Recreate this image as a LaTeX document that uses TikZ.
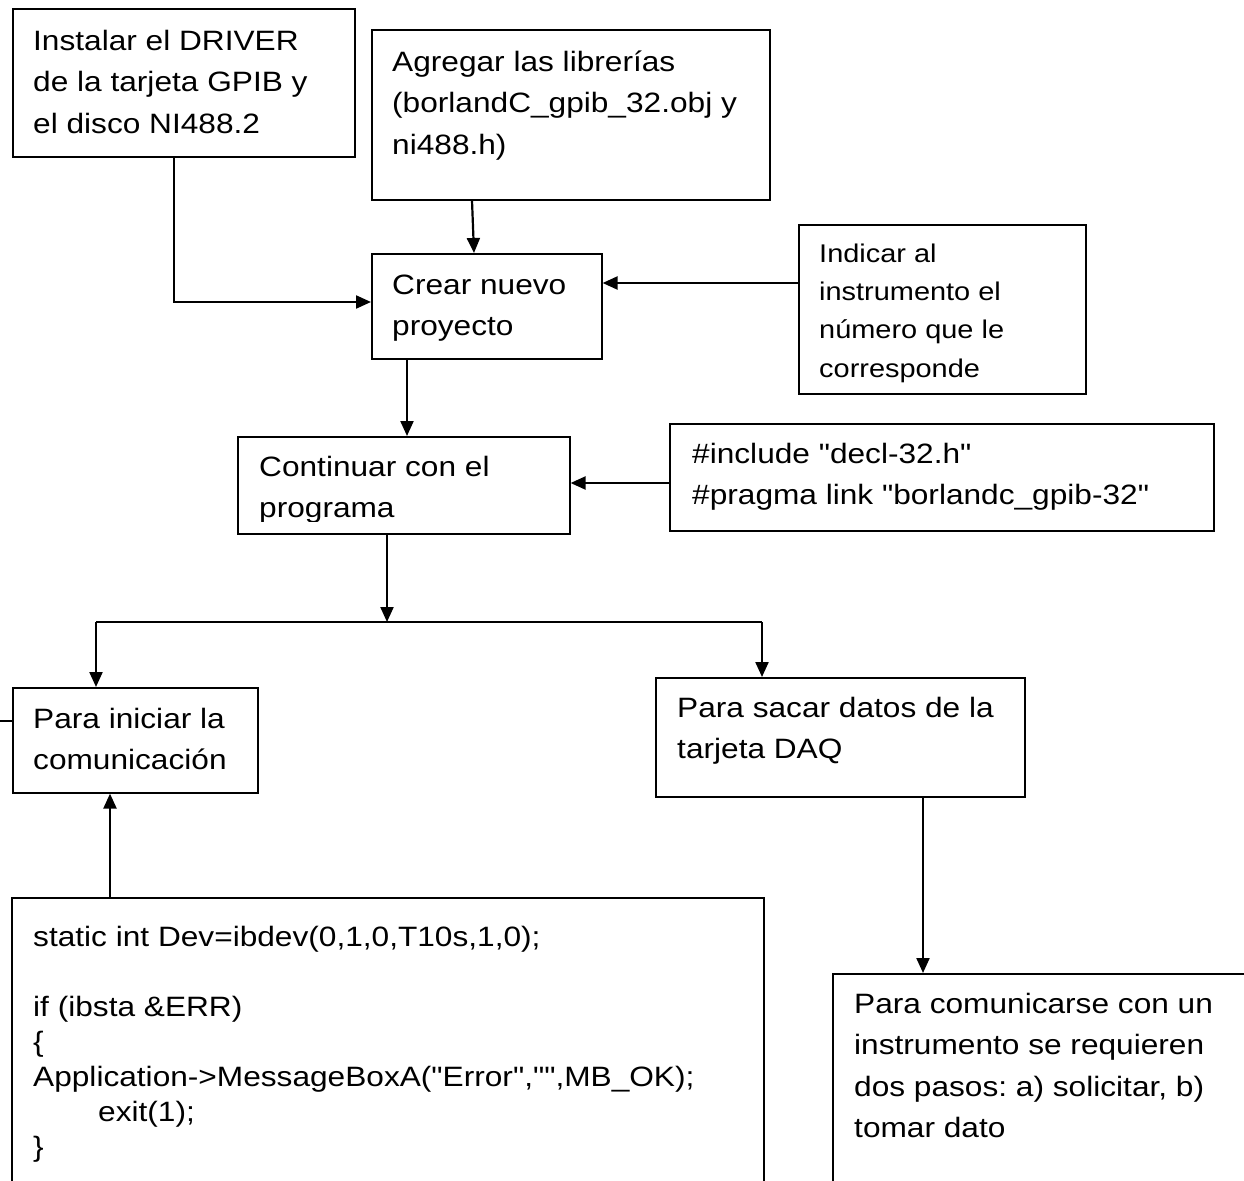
\documentclass[tikz,border=0pt]{standalone}
\usepackage{fontspec}
% plain family without TeX ligature mapping, so " stays a straight quote
\newfontfamily\basefont{Liberation Sans}[FakeStretch=1.13]
\usetikzlibrary{arrows.meta}

\tikzset{
  box/.style={draw, line width=1.6pt, inner sep=0pt, anchor=north west},
  txt/.style={anchor=north west, inner sep=0pt, align=left,
              font=\basefont\frenchspacing\fontsize{28}{41.5}\selectfont},
  smalltxt/.style={txt, font=\basefont\frenchspacing\fontsize{25.6}{38.3}\selectfont},
  codetxt/.style={txt, font=\basefont\frenchspacing\fontsize{28}{35}\selectfont},
  conn/.style={line width=2.2pt, -{Triangle[length=15pt,width=13pt]}},
  wire/.style={line width=2.2pt},
}

\begin{document}
\begin{tikzpicture}[x=1pt, y=-1pt]
  \useasboundingbox (0,0) rectangle (1244,1180);
  \fill[white] (0,0) rectangle (1244,1180);
  \clip (0,0) rectangle (1244,1180);

  % boxes
  \node[box, minimum width=342, minimum height=148] (inst)  at (12,8)   {};
  \node[box, minimum width=398, minimum height=170] (agreg) at (371,29) {};
  \node[box, minimum width=230, minimum height=105] (crear) at (371,253) {};
  \node[box, minimum width=287, minimum height=169] (indic) at (798,224) {};
  \node[box, minimum width=544, minimum height=107] (incl)  at (669,423) {};
  \node[box, minimum width=332, minimum height=97]  (cont)  at (237,436) {};
  \node[box, minimum width=245, minimum height=105] (inic)  at (12,687) {};
  \node[box, minimum width=369, minimum height=119] (daq)   at (655,677) {};
  \node[box, minimum width=450, minimum height=300] (comun) at (832,973) {};
  \node[box, minimum width=752, minimum height=400] (code)  at (11,897) {};

  % box texts (first baseline = top + strut height)
  \node[txt] (t-inst) at (33,21) {\strut Instalar el DRIVER\\de la tarjeta GPIB y\\el disco NI488.2};
  \node[txt] (t-agreg) at (392,42) {\strut Agregar las librerías\\(borlandC\_gpib\_32.obj y\\ni488.h)};
  \node[txt] (t-crear) at (392,265) {\strut Crear nuevo\\proyecto};
  \node[smalltxt] (t-indic) at (819,235.2) {\strut Indicar al\\instrumento el\\número que le\\corresponde};
  \node[txt] (t-incl) at (692,434) {\strut\#include "decl-32.h"\\\#pragma link "borlandc\_gpib-32"};
  \begin{scope}
    \clip (237,436) rectangle (569,521);
    \node[txt] (t-cont) at (259,447) {\strut Continuar con el\\programa};
  \end{scope}
  \node[txt] (t-inic) at (33,699) {\strut Para iniciar la\\comunicación};
  \node[txt] (t-daq) at (677,688) {\strut Para sacar datos de la\\tarjeta DAQ};
  \node[txt] (t-comun) at (854,984) {\strut Para comunicarse con un\\instrumento se requieren\\dos pasos: a) solicitar, b)\\tomar dato};
  \node[codetxt] (t-code) at (33,921.5) {\strut static int Dev=ibdev(0,1,0,T10s,1,0);\\\mbox{}\\if (ibsta \&ERR)\\\{\\Application->MessageBoxA("Error","",MB\_OK);\\\hspace*{65pt}exit(1);\\\}};

  % connectors
  \draw[conn] (inst.south -| 174,0) |- (crear.west |- 0,302);
  \draw[conn] (agreg.south -| 472,0) -- (crear.north -| 474,0);
  \draw[conn] (indic.west |- 0,283) -- (crear.east |- 0,283);
  \draw[conn] (crear.south -| 407,0) -- (cont.north -| 407,0);
  \draw[conn] (incl.west |- 0,483) -- (cont.east |- 0,483);

  \coordinate (split) at (387,622);
  \coordinate (bl) at (96,622);
  \coordinate (br) at (762,622);
  \draw[conn] (cont.south -| split) -- (split);
  \draw[wire] (bl) -- (br);
  \draw[conn] (bl) -- (inic.north -| bl);
  \draw[conn] (br) -- (daq.north -| br);

  \coordinate (stub) at (0,721);
  \draw[line width=1.6pt] (stub) -- (inic.west |- stub);

  \draw[conn] (code.north -| 110,0) -- (inic.south -| 110,0);
  \draw[conn] (daq.south -| 923,0) -- (comun.north -| 923,0);
\end{tikzpicture}
\end{document}
